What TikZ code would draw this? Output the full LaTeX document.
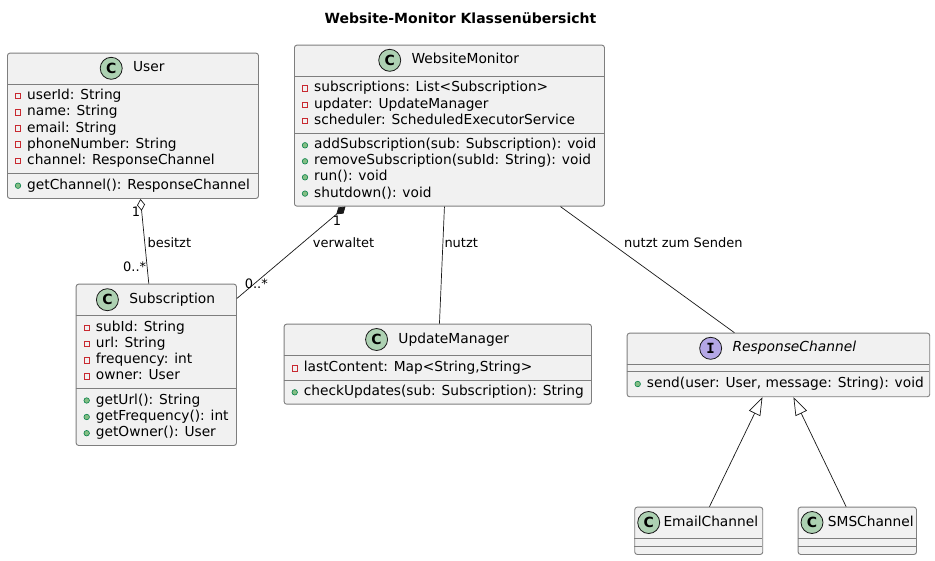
\documentclass[tikz,border=0pt]{standalone}
\usepackage{fontspec}
\setmainfont{DejaVu Sans}
\newfontfamily\monob{DejaVu Sans Mono}
\usetikzlibrary{arrows.meta,calc}
\definecolor{linec}{HTML}{181818}
\definecolor{boxline}{HTML}{7E7E7E}
\definecolor{boxfill}{HTML}{F1F1F1}
\definecolor{cfill}{HTML}{ADD1B2}
\definecolor{ifill}{HTML}{B4A7E5}
\definecolor{privc}{HTML}{C82930}
\definecolor{pubfill}{HTML}{84BE84}
\definecolor{pubdraw}{HTML}{038048}
\tikzset{
  box/.style={draw=boxline, fill=boxfill, line width=0.9pt, rounded corners=2.5pt, inner sep=0pt, anchor=north west},
  sepline/.style={draw=boxline, line width=0.9pt},
  mem/.style={anchor=west, inner sep=0pt, font=\fontsize{13.75}{16}\selectfont, text height=10.5pt, text depth=3.3pt},
  hname/.style={anchor=center, inner sep=0pt, font=\fontsize{13.8}{16}\selectfont, text height=10.5pt, text depth=3.3pt},
  privicon/.style={rectangle, draw=privc, line width=0.8pt, minimum size=5.5pt, inner sep=0pt},
  pubicon/.style={circle, fill=pubfill, draw=pubdraw, line width=0.6pt, minimum size=5.5pt, inner sep=0pt},
  cicon/.style={circle, draw=linec, fill=cfill, minimum size=22pt, inner sep=0pt, line width=0.8pt, font=\fontsize{14}{14}\selectfont\bfseries},
  iicon/.style={circle, draw=linec, fill=ifill, minimum size=22pt, inner sep=0pt, line width=0.8pt, font=\fontsize{14}{14}\selectfont\monob\bfseries},
  edge/.style={draw=linec, line width=0.7pt},
  elabel/.style={inner sep=0pt, font=\fontsize{13}{15}\selectfont, text height=9.7pt, text depth=3pt},
}
\newcommand\attrrow[4]{%
  \node[privicon] (#1i) at (#2+11,#3) {};
  \node[mem] (#1) at (#2+20,#3) {#4};}
\newcommand\methrow[4]{%
  \node[pubicon] (#1i) at (#2+11,#3) {};
  \node[mem] (#1) at (#2+20,#3) {#4};}
\newcommand\classhead[4]{%
  \node[hname] (#1) at (#2+16.35,#3) {#4};
  \node[cicon] (#1c) at ([xshift=-21.7pt]#1.west) {C};}
\begin{document}
\begin{tikzpicture}[x=1pt,y=-1pt]
\useasboundingbox (0,0) rectangle (935,560);
\fill[white] (0,0) rectangle (935,560);

\node[font=\fontsize{14}{16}\selectfont\bfseries] (title) at (460.5,18) {Website-Monitor Klassenübersicht};

% ---------- User ----------
\node[box, minimum width=251pt, minimum height=145.3pt] (user) at (7,52.7) {};
\draw[sepline] (7,84.3) -- (258,84.3);
\draw[sepline] (7,173.3) -- (258,173.3);
\classhead{userh}{132.5}{68.3}{User}
\attrrow{ua1}{7}{96}{userId: String}
\attrrow{ua2}{7}{112.2}{name: String}
\attrrow{ua3}{7}{128.4}{email: String}
\attrrow{ua4}{7}{144.6}{phoneNumber: String}
\attrrow{ua5}{7}{160.8}{channel: ResponseChannel}
\methrow{um1}{7}{185.7}{getChannel(): ResponseChannel}

% ---------- WebsiteMonitor ----------
\node[box, minimum width=310pt, minimum height=161pt] (wm) at (294,44.7) {};
\draw[sepline] (294,76) -- (604,76);
\draw[sepline] (294,133.3) -- (604,133.3);
\classhead{wmh}{449}{60.3}{WebsiteMonitor}
\attrrow{wa1}{294}{88.3}{subscriptions: List<Subscription>}
\attrrow{wa2}{294}{104.7}{updater: UpdateManager}
\attrrow{wa3}{294}{121}{scheduler: ScheduledExecutorService}
\methrow{wm1}{294}{145.3}{addSubscription(sub: Subscription): void}
\methrow{wm2}{294}{161.3}{removeSubscription(subId: String): void}
\methrow{wm3}{294}{177.3}{run(): void}
\methrow{wm4}{294}{193.6}{shutdown(): void}

% ---------- Subscription ----------
\node[box, minimum width=160.3pt, minimum height=161.3pt] (sub) at (75.7,283.7) {};
\draw[sepline] (75.7,315.7) -- (236,315.7);
\draw[sepline] (75.7,388.3) -- (236,388.3);
\classhead{subh}{155.85}{299.7}{Subscription}
\attrrow{sa1}{75.7}{327.7}{subId: String}
\attrrow{sa2}{75.7}{344}{url: String}
\attrrow{sa3}{75.7}{360.2}{frequency: int}
\attrrow{sa4}{75.7}{376.3}{owner: User}
\methrow{sm1}{75.7}{400.5}{getUrl(): String}
\methrow{sm2}{75.7}{417}{getFrequency(): int}
\methrow{sm3}{75.7}{433.2}{getOwner(): User}

% ---------- UpdateManager ----------
\node[box, minimum width=307.3pt, minimum height=80pt] (um) at (283.7,323.7) {};
\draw[sepline] (283.7,355.3) -- (591,355.3);
\draw[sepline] (283.7,380.3) -- (591,380.3);
\classhead{umh}{437.35}{339.5}{UpdateManager}
\attrrow{uma1}{283.7}{368.2}{lastContent: Map<String,String>}
\methrow{umm1}{283.7}{392.3}{checkUpdates(sub: Subscription): String}

% ---------- ResponseChannel ----------
\node[box, minimum width=302.6pt, minimum height=63.6pt] (rc) at (626.7,332.7) {};
\draw[sepline] (626.7,364) -- (929.3,364);
\draw[sepline] (626.7,371) -- (929.3,371);
\node[hname, font=\fontsize{13.8}{16}\selectfont\itshape] (rch) at (778+16.35,348.3) {ResponseChannel};
\node[iicon] (rchc) at ([xshift=-21.7pt]rch.west) {I};
\methrow{rcm1}{626.7}{384}{send(user: User, message: String): void}

% ---------- EmailChannel ----------
\node[box, minimum width=128pt, minimum height=47.3pt] (email) at (634.3,506.7) {};
\draw[sepline] (634.3,538.3) -- (762.3,538.3);
\draw[sepline] (634.3,546) -- (762.3,546);
\node[cicon] (emailc) at (648.7,522.5) {C};
\node[mem] (emailh) at (663.3,522.5) {EmailChannel};

% ---------- SMSChannel ----------
\node[box, minimum width=118.3pt, minimum height=47.3pt] (sms) at (797.7,506.7) {};
\draw[sepline] (797.7,538.3) -- (916,538.3);
\draw[sepline] (797.7,546) -- (916,546);
\node[cicon] (smsc) at (812,522.5) {C};
\node[mem] (smsh) at (827.7,522.5) {SMSChannel};

% ---------- Connectors ----------
\draw[edge, {Diamond[open, length=12pt, width=8pt]}-] ([xshift=7.5pt]user.south) -- ([xshift=-7.5pt]sub.north);
\draw[edge, {Diamond[length=12pt, width=8pt]}-] ([xshift=-104pt]wm.south) -- ([yshift=66.35pt]sub.east);
\draw[edge] ([xshift=-5pt]wm.south) -- ([xshift=1.65pt]um.north);
\draw[edge] ([xshift=111pt]wm.south) -- ([xshift=-44pt]rc.north);
\draw[edge, -{Triangle[open, length=18pt, width=12.5pt]}] ([xshift=10.7pt]email.north) -- ([xshift=-16pt]rc.south);
\draw[edge, -{Triangle[open, length=18pt, width=12.5pt]}] ([xshift=-11.15pt]sms.north) -- ([xshift=15pt]rc.south);

% ---------- Labels ----------
\node[elabel] (l1) at (136,213.5) {1};
\node[elabel, anchor=west] (l2) at (147.3,244.3) {besitzt};
\node[elabel] (l3) at (134.7,267.7) {0..*};
\node[elabel] (l4) at (337,222) {1};
\node[elabel, anchor=west] (l5) at (312.7,244.3) {verwaltet};
\node[elabel] (l6) at (256.3,285) {0..*};
\node[elabel, anchor=west] (l7) at (444.3,244.3) {nutzt};
\node[elabel, anchor=west] (l8) at (624,244.3) {nutzt zum Senden};
\end{tikzpicture}
\end{document}
